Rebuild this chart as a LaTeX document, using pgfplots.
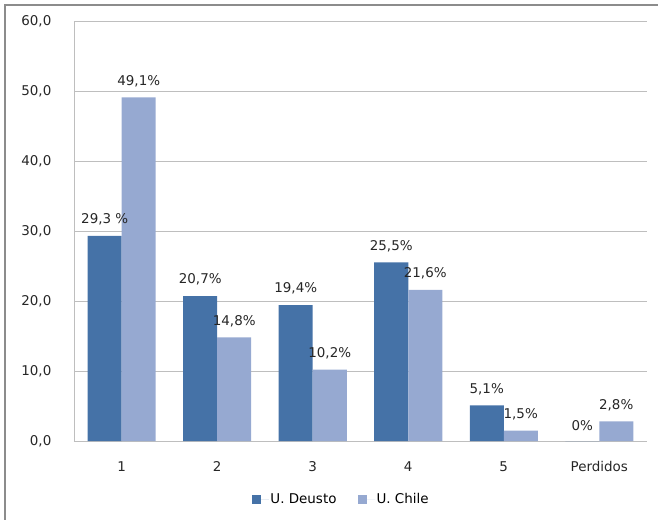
\documentclass[border=0pt]{standalone}
\usepackage{fontspec}
\setmainfont{DejaVu Sans}
\usepackage{pgfplots}
\pgfplotsset{compat=1.18}
\definecolor{deusto}{HTML}{4572A7}
\definecolor{chile}{HTML}{96A9D1}
\definecolor{gridc}{HTML}{BEBEBE}
\newcommand{\fs}{\fontsize{13.5}{16}\selectfont}
\begin{document}
\fs
\begin{tikzpicture}
\useasboundingbox (-74bp,-79bp) rectangle (584bp,441bp);
\draw[color=gray!90, line width=1.6pt] (-69bp,-80bp) -- (-69bp,436bp) -- (585bp,436bp);
\begin{axis}[
  at={(0,0)}, anchor=south west,
  scale only axis, width=573bp, height=420bp,
  ymin=0, ymax=60, ytick={0,10,...,60},
  xmin=-0.5, xmax=5.5, xtick={0,...,5},
  xticklabels={1,2,3,4,5,Perdidos},
  ybar=0pt, bar width=34bp,
  ymajorgrids, grid style={color=gridc, line width=0.9pt},
  axis x line*=bottom, axis y line*=left,
  axis line style={color=gridc, line width=0.9pt, -},
  major tick length=0pt,
  tick label style={font=\fs, text=black!85},
  yticklabel style={/pgf/number format/.cd, use comma, fixed, fixed zerofill, precision=1, assume math mode=true},
  xticklabel shift=16bp, yticklabel shift=18bp,
  point meta=explicit symbolic,
  nodes near coords={\pgfplotspointmeta},
  nodes near coords style={font=\fs, text=black!85, yshift=6bp},
  legend style={at={(0.466,-0.14)}, anchor=center, draw=none, legend columns=2,
    font=\fs, /tikz/every even column/.append style={column sep=20bp},
    nodes={inner sep=1.5bp}},
  legend image code/.code={\fill[#1] (0bp,-4.5bp) rectangle (9bp,4.5bp); \path (9bp,0bp) -- (17bp,0bp);},
]
\addplot[fill=deusto, draw=none] coordinates {
  (0,29.3) [29,3 \%]
  (1,20.7) [20,7\%]
  (2,19.4) [19,4\%]
  (3,25.5) [25,5\%]
  (4,5.1) [5,1\%]
  (5,0) [0\%]
};
\addplot[fill=chile, draw=none] coordinates {
  (0,49.1) [49,1\%]
  (1,14.8) [14,8\%]
  (2,10.2) [10,2\%]
  (3,21.6) [21,6\%]
  (4,1.5) [1,5\%]
  (5,2.8) [2,8\%]
};
\legend{U. Deusto, U. Chile}
\end{axis}
\end{tikzpicture}
\end{document}
